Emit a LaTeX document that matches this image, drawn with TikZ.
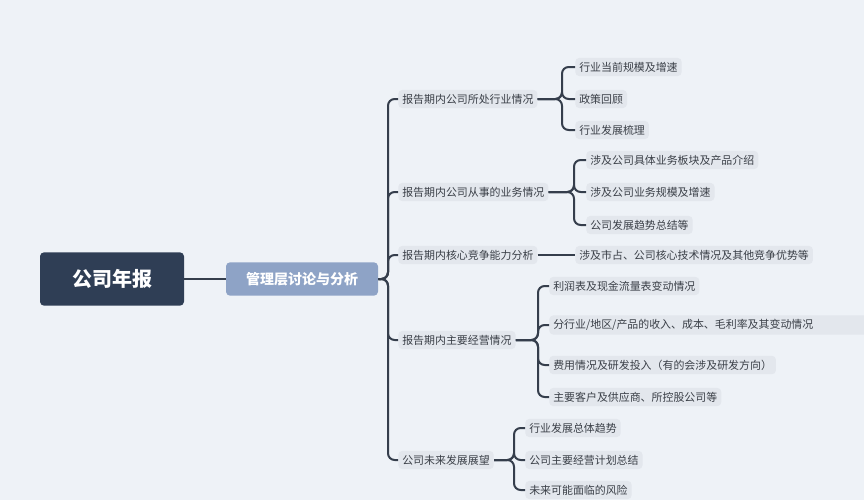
\documentclass[tikz,border=0pt]{standalone}
\usepackage{fontspec}
\setmainfont{Noto Sans CJK SC}
\begin{document}
\begin{tikzpicture}[x=0.75pt,y=-0.75pt,
  leaf/.style={fill=leafbg,rounded corners=3pt,font=\fontsize{8.2}{10}\selectfont,text=txt,inner xsep=3pt,inner ysep=3pt,anchor=west},
  conn/.style={draw=ln,line width=1.5pt,rounded corners=5pt}]
\definecolor{bg}{HTML}{EEF2F7}
\definecolor{leafbg}{HTML}{E3E7ED}
\definecolor{txt}{HTML}{3A3F47}
\definecolor{ln}{HTML}{353E4C}
\fill[bg] (0,0) rectangle (864,500);
\useasboundingbox (0,0) rectangle (864,500);
\node[fill={rgb,255:red,47;green,62;blue,85},rounded corners=3pt,minimum width=108pt,minimum height=40pt,text=white,font=\fontsize{15}{18}\selectfont\bfseries] (root) at (112,279) {公司年报};
\node[fill={rgb,255:red,142;green,163;blue,198},rounded corners=3pt,minimum width=114pt,minimum height=25pt,text=white,font=\fontsize{10.5}{12}\selectfont\bfseries] (main) at (302,279) {管理层讨论与分析};
\draw[conn] (root.east) -- (main.west);
% level 2
\node[leaf] (a) at (398,99) {报告期内公司所处行业情况};
\node[leaf] (b) at (398,192) {报告期内公司从事的业务情况};
\node[leaf] (c) at (398,255) {报告期内核心竞争能力分析};
\node[leaf] (d) at (398,340) {报告期内主要经营情况};
\node[leaf] (e) at (398,460) {公司未来发展展望};
\foreach \n in {a,b,c,d,e}{\draw[conn] (main.east) -- (388,279) |- (\n.west);}
% a children
\node[leaf] (a1) at (575,67) {行业当前规模及增速};
\node[leaf] (a2) at (575,99) {政策回顾};
\node[leaf] (a3) at (575,130) {行业发展梳理};
\foreach \n in {a1,a2,a3}{\draw[conn] (a.east) -- (562,99) |- (\n.west);}
% b children
\node[leaf] (b1) at (586,160) {涉及公司具体业务板块及产品介绍};
\node[leaf] (b2) at (586,192) {涉及公司业务规模及增速};
\node[leaf] (b3) at (586,225) {公司发展趋势总结等};
\foreach \n in {b1,b2,b3}{\draw[conn] (b.east) -- (574,192) |- (\n.west);}
% c child
\node[leaf] (c1) at (575,255) {涉及市占、公司核心技术情况及其他竞争优势等};
\draw[draw=ln,line width=0.8pt] (c.east) -- (c1.west);
% d children
\node[leaf] (d1) at (549,286) {利润表及现金流量表变动情况};
\node[leaf,align=left,text width=250] (d2) at (549,325) {分行业/地区/产品的收入、成本、毛利率及其变动情况};
\node[leaf] (d3) at (549,365) {费用情况及研发投入（有的会涉及研发方向）};
\node[leaf] (d4) at (549,397) {主要客户及供应商、所控股公司等};
\foreach \n in {d1,d2,d3,d4}{\draw[conn] (d.east) -- (538,340) |- (\n.west);}
% e children
\node[leaf] (e1) at (525,428) {行业发展总体趋势};
\node[leaf] (e2) at (525,460) {公司主要经营计划总结};
\node[leaf] (e3) at (525,490) {未来可能面临的风险};
\foreach \n in {e1,e2,e3}{\draw[conn] (e.east) -- (514,460) |- (\n.west);}
\end{tikzpicture}
\end{document}
